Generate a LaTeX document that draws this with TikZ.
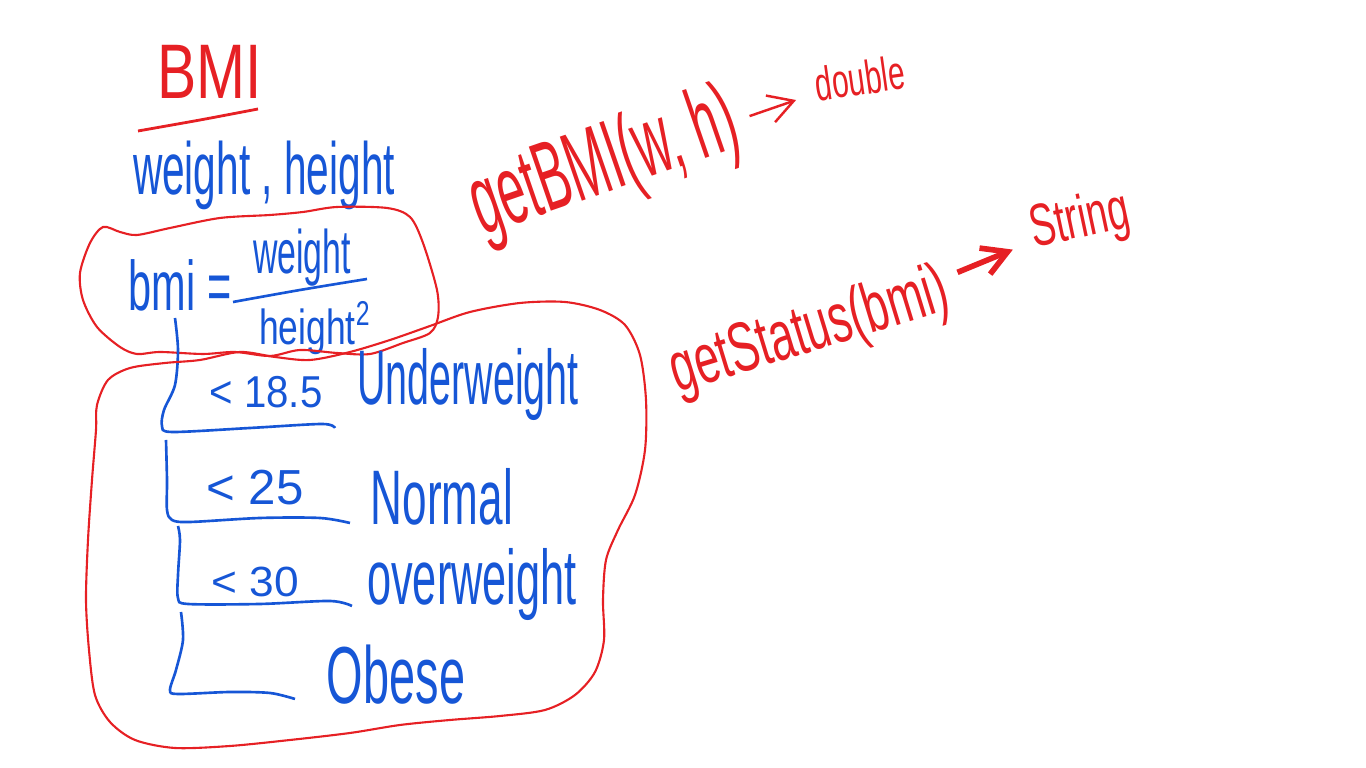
\documentclass[tikz,border=0pt]{standalone}
\usepackage{fontspec}
\setmainfont{Liberation Sans}
\usepackage{graphicx}
\usetikzlibrary{arrows.meta}

\definecolor{inkred}{RGB}{230,32,36}
\definecolor{inkblue}{RGB}{22,86,214}

% squeeze handwriting sideways
\newcommand{\squash}[2]{\scalebox{#1}[1]{#2}}

\begin{document}
\begin{tikzpicture}[
x=0.01cm, y=-0.01cm,
red hand/.style={inner sep=0pt, text=inkred},
blue hand/.style={inner sep=0pt, text=inkblue},
blob/.style={draw=inkred, line width=0.6pt},
branch/.style={draw=inkblue, line width=0.75pt},
ret/.style={draw=inkred, line width=0.7pt, -{Straight Barb[length=7pt,width=8pt]}, shorten <=4pt, shorten >=6pt},
]
\useasboundingbox (0,0) rectangle (1366,768);

% title
\node[red hand, font=\fontsize{22}{24}\selectfont] (title) at (210,72) {\squash{0.76}{BMI}};
\draw[blob, line width=0.8pt] plot[smooth] coordinates {(138,131) (200,120) (258,109)};

% inputs and formula
\node[blue hand, font=\fontsize{21}{24}\selectfont] (inputs) at (264,175) {\squash{0.55}{weight , height}};
\node[blue hand, font=\fontsize{20}{22}\selectfont] (bmi) at (180,285) {\squash{0.59}{bmi =}};
\node[blue hand, font=\fontsize{17.5}{20}\selectfont] (num) at (302,258) {\squash{0.55}{weight}};
\node[blue hand, font=\fontsize{14}{16}\selectfont] (den) at (315,328) {\squash{0.72}{height\textsuperscript{2}}};
\draw[branch] plot[smooth] coordinates {(233,302) (300,290) (367,279)};

% blob round the formula
\draw[blob] plot[smooth cycle] coordinates {(80,273) (90,243) (103,227) (120,232) (137,235) (170,228)
  (220,218) (270,215) (303,212) (337,207) (387,208) (410,217) (423,243) (437,290) (438,317)
  (430,333) (403,343) (370,354) (337,353) (300,350) (270,356) (235,352) (203,354) (160,352)
  (137,354) (120,347) (97,327) (83,300)};

% status ranges
\node[blue hand, font=\fontsize{12.7}{14}\selectfont] (r1) at (266,392) {\squash{0.9}{< 18.5}};
\node[blue hand, font=\fontsize{22}{24}\selectfont] (under) at (468,385) {\squash{0.51}{Underweight}};
\node[blue hand, font=\fontsize{14}{16}\selectfont] (r2) at (255,488) {< 25};
\node[blue hand, font=\fontsize{22}{24}\selectfont] (normal) at (442,497) {\squash{0.57}{Normal}};
\node[blue hand, font=\fontsize{12}{14}\selectfont] (r3) at (255,582) {\squash{1.05}{< 30}};
\node[blue hand, font=\fontsize{22}{24}\selectfont] (over) at (472,585) {\squash{0.56}{overweight}};
\node[blue hand, font=\fontsize{23}{25}\selectfont] (obese) at (396,675) {\squash{0.58}{Obese}};

\draw[branch] plot[smooth] coordinates {(175,318) (178,350) (175,385) (164,410) (162,426) (172,432) (250,428) (322,424) (335,428)};
\draw[branch] plot[smooth] coordinates {(166,440) (167,480) (167,510) (172,520) (190,522) (260,518) (320,518) (350,523)};
\draw[branch] plot[smooth] coordinates {(178,526) (180,540) (178,575) (178,598) (188,604) (260,604) (330,601) (352,606)};
\draw[branch] plot[smooth] coordinates {(181,612) (183,640) (176,670) (170,690) (178,694) (230,692) (270,693) (295,699)};

% blob round the ranges
\draw[blob] plot[smooth cycle] coordinates {(97,405) (108,380) (130,368) (165,363) (200,360) (240,352)
  (275,357) (310,360) (350,352) (390,340) (430,326) (470,312) (520,303) (565,302) (600,310)
  (625,325) (640,355) (646,400) (645,450) (635,495) (618,530) (606,560) (603,600) (604,640)
  (595,672) (575,695) (545,710) (500,716) (450,720) (400,725) (350,733) (290,740) (230,746)
  (175,748) (135,740) (110,722) (95,695) (89,650) (86,600) (88,540) (92,480) (96,430)};

% functions
\node[red hand, font=\fontsize{28}{30}\selectfont, rotate=19] (getbmi) at (605,166) {\squash{0.5}{getBMI(w, h)}};
\node[red hand, font=\fontsize{13.5}{15}\selectfont, rotate=8] (double) at (860,78) {\squash{0.63}{double}};
\node[red hand, font=\fontsize{20}{22}\selectfont, rotate=17] (getstatus) at (810,333) {\squash{0.63}{getStatus(bmi)}};
\node[red hand, font=\fontsize{17}{19}\selectfont, rotate=12] (string) at (1080,222) {\squash{0.64}{String}};

\draw[ret] (getbmi) -- (double);
\draw[ret, line width=1.6pt] (getstatus) -- (string);
\end{tikzpicture}
\end{document}
